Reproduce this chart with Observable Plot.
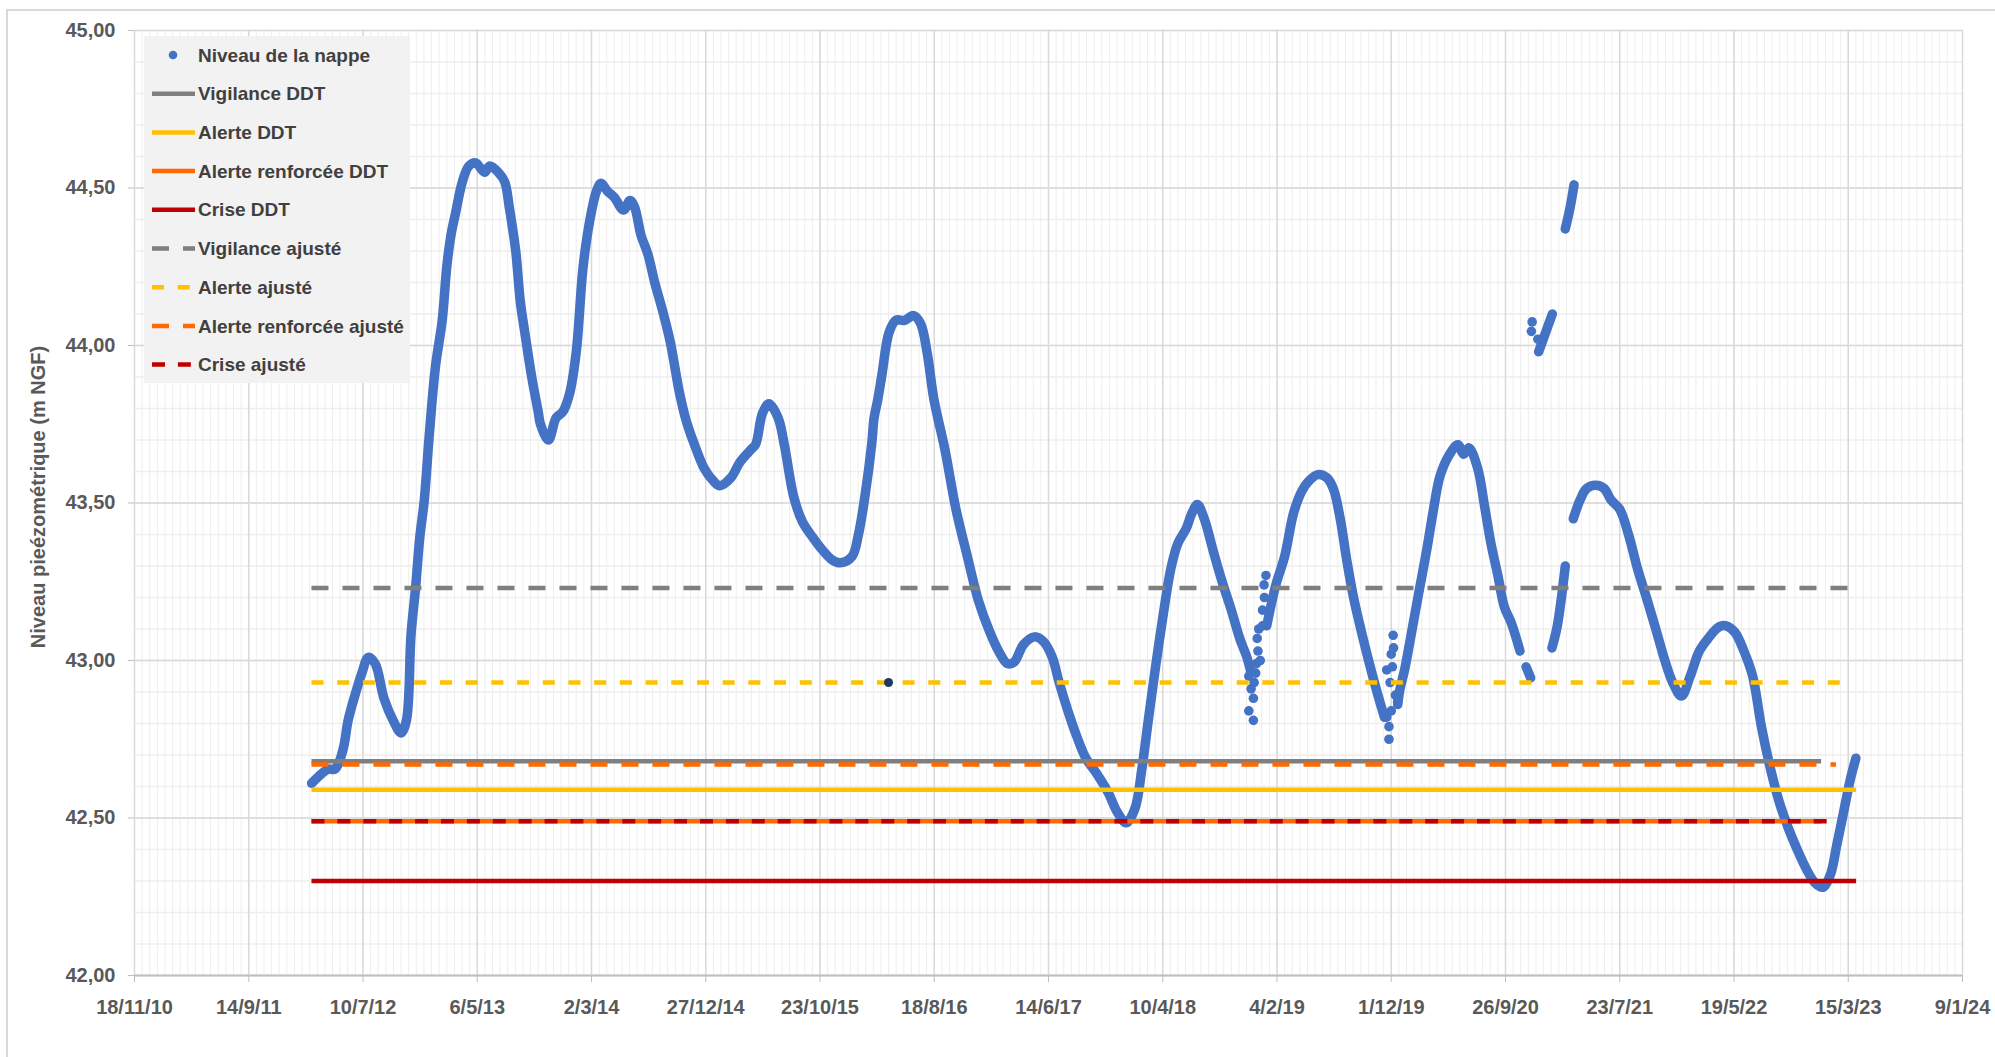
<!DOCTYPE html>
<html><head><meta charset="utf-8">
<script src="https://cdn.jsdelivr.net/npm/d3@7"></script>
<script src="https://cdn.jsdelivr.net/npm/@observablehq/plot@0.6"></script>
<style>
html,body{margin:0;padding:0;background:#fff;}
#wrap{position:relative;width:1995px;height:1057px;overflow:hidden;font-family:"Liberation Sans",Arial,sans-serif;background:#fff;}
#border{position:absolute;left:6px;top:9px;width:2100px;height:1200px;border-top:2px solid #d9d9d9;border-left:2px solid #d9d9d9;}
#chart{position:absolute;left:0;top:0;}
#ytitle{position:absolute;left:38px;top:497px;transform:translate(-50%,-50%) rotate(-90deg);white-space:nowrap;font-weight:bold;font-size:20px;color:#595959;}
#legend{position:absolute;left:144px;top:36px;width:266px;height:347px;background:#f2f2f2;}
</style></head>
<body><div id="wrap"><div id="border"></div><div id="chart"></div><div id="ytitle">Niveau pieézométrique (m NGF)</div><div id="legend"></div></div>
<script>
// Dates are Excel serial day numbers (as stored by the source workbook)
const nappeDate = [
40965,40991,41008,41026,41038,41050,41061,41079,41097,41114,41132,41155,41179,41200,41214,41226,41238,41249,41261,41273,
41290,41308,41320,41331,41343,41361,41378,41396,41419,41433,41455,41472,41484,41501,41513,41525,41543,41560,41566,41587,
41607,41625,41643,41660,41678,41696,41713,41725,41742,41760,41784,41801,41813,41830,41848,41866,41889,41907,41931,41949,
41972,41996,42020,42037,42066,42090,42119,42131,42149,42166,42190,42207,42231,42254,42284,42307,42331,42354,42384,42401,
42419,42436,42442,42452,42463,42481,42499,42522,42546,42564,42581,42599,42628,42657,42687,42716,42746,42769,42792,42810,
42834,42863,42887,42910,42928,42951,42974,42998,43027,43057,43080,43104,43127,43145,43162,43180,43203,43221,43239,43262,
43276,43291,43309,43332,43356,43380,43403,43421,43432,
null,
43473,43497,43520,43544,43566,43584,43607,43631,43648,43666,43683,43701,43724,43747,43765,43782,
null,
43817,43823,43835,43852,43870,43893,43911,43928,43951,43975,43990,44004,44027,44045,44062,44080,44097,44115,44138,
null,
44154,44166,
null,
44222,44236,44257,
null,
44187,44205,44223,
null,
44257,44270,44280,
null,
44278,44296,44313,44337,44359,44377,44400,44423,44447,44470,44493,44516,44539,44562,44585,44609,44632,44661,44679,44702,
44726,44749,44772,44796,44819,44842,44866,44889,44912,44933,44953,44970,44988,45005,45020
];
const nappeLevel = [
42.61,42.64,42.655,42.655,42.68,42.73,42.81,42.89,42.96,43.01,42.99,42.88,42.81,42.77,42.81,43.08,43.23,43.39,43.51,43.70,
43.93,44.08,44.25,44.35,44.42,44.52,44.57,44.58,44.55,44.57,44.55,44.52,44.44,44.30,44.14,44.04,43.90,43.79,43.75,43.70,
43.77,43.79,43.85,43.98,44.25,44.40,44.49,44.515,44.49,44.47,44.43,44.46,44.44,44.35,44.29,44.20,44.10,44.01,43.85,43.76,
43.68,43.61,43.57,43.555,43.58,43.63,43.67,43.686,43.785,43.815,43.77,43.68,43.52,43.44,43.386,43.35,43.32,43.31,43.33,43.40,
43.53,43.69,43.77,43.83,43.91,44.04,44.08,44.08,44.095,44.07,43.98,43.83,43.67,43.48,43.33,43.19,43.09,43.03,42.99,42.995,
43.05,43.075,43.06,43.01,42.93,42.84,42.76,42.69,42.64,42.58,42.52,42.485,42.53,42.655,42.81,42.97,43.16,43.29,43.37,43.42,
43.466,43.495,43.45,43.35,43.25,43.16,43.067,43.01,42.96,
null,
43.11,43.24,43.33,43.47,43.54,43.57,43.59,43.58,43.545,43.45,43.32,43.20,43.08,42.97,42.89,42.82,
null,
42.86,42.91,42.97,43.08,43.20,43.35,43.48,43.585,43.65,43.685,43.655,43.675,43.61,43.49,43.37,43.27,43.17,43.12,43.03,
null,
42.98,42.945,
null,
43.04,43.11,43.30,
null,
43.98,44.04,44.10,
null,
44.37,44.44,44.51,
null,
43.45,43.51,43.546,43.556,43.546,43.51,43.48,43.40,43.29,43.20,43.107,43.01,42.93,42.887,42.95,43.03,43.07,43.107,43.11,43.09,
43.03,42.95,42.79,42.655,42.55,42.47,42.40,42.34,42.295,42.28,42.32,42.415,42.52,42.62,42.69
];
const scatterDate = [43426,43432,43438,43426,43438,43440,43444,43446,43450,43456,43448,43452,43462,43462,43467,43466,43471,
  43788,43794,43794,43800,43797,43788,43800,43803,43805,43806,43811,43817,
  44170,44168,44185];
const scatterLevel = [42.95,42.91,42.88,42.84,42.81,42.93,42.96,42.99,43.03,43.00,43.07,43.10,43.11,43.16,43.20,43.24,43.27,
  42.82,42.75,42.79,42.84,42.93,42.97,43.02,42.98,43.08,43.04,42.89,42.87,
  44.075,44.045,44.02];
const isolatedDate = [42480];
const isolatedLevel = [42.93];

const thresholdNames = ["Vigilance DDT","Alerte DDT","Alerte renforcée DDT","Crise DDT","Vigilance ajusté","Alerte ajusté","Alerte renforcée ajusté","Crise ajusté"];
const thresholdLevels = [42.68, 42.59, 42.49, 42.30, 43.23, 42.93, 42.67, 42.49];
const thresholdStart = [40966, 40966, 40966, 40966, 40966, 40966, 40966, 40966];
const thresholdEnd = [44930, 45022, 44930, 45022, 45019, 45006, 44969, 44964];

const xTicks = d3.range(40500, 45301, 300);
const yTicks = [42, 42.5, 43, 43.5, 44, 44.5, 45];
const legendLabel = "Niveau de la nappe";

// styles
const styleOf = {
  "Vigilance DDT": {stroke: "#7f7f7f", dash: null},
  "Alerte DDT": {stroke: "#ffc000", dash: null},
  "Alerte renforcée DDT": {stroke: "#ff6a00", dash: null},
  "Crise DDT": {stroke: "#c00000", dash: null},
  "Vigilance ajusté": {stroke: "#7f7f7f", dash: "17,14"},
  "Alerte ajusté": {stroke: "#ffc000", dash: "12,13.7"},
  "Alerte renforcée ajusté": {stroke: "#ff6a00", dash: "17,14"},
  "Crise ajusté": {stroke: "#c00000", dash: "13,12.9"}
};
const BLUE = "#4472c4";

function serialToLabel(s) {
  const d = new Date(Date.UTC(1899, 11, 30) + s * 86400000);
  return `${d.getUTCDate()}/${d.getUTCMonth() + 1}/${String(d.getUTCFullYear()).slice(2)}`;
}

const nappe = nappeDate.map((d, i) => ({date: d, level: nappeLevel[i]}));
const scatter = scatterDate.map((d, i) => ({date: d, level: scatterLevel[i]}));
const isolated = isolatedDate.map((d, i) => ({date: d, level: isolatedLevel[i]}));
const thresholds = thresholdNames.map((n, i) => ({name: n, level: thresholdLevels[i], start: thresholdStart[i], end: thresholdEnd[i]}));

const minorX = d3.range(40500, 45301, 20);
const minorY = d3.range(0, 31).map(i => 42 + i * 0.1);

const thresholdMarks = thresholds.map(t => Plot.ruleY([t], {
  y: "level", x1: "start", x2: "end",
  stroke: styleOf[t.name].stroke, strokeWidth: 4.5,
  strokeDasharray: styleOf[t.name].dash || undefined
}));

const chart = Plot.plot({
  width: 1995, height: 1057,
  marginLeft: 134, marginRight: 33, marginTop: 30, marginBottom: 82,
  x: {domain: [40500, 45300]},
  y: {domain: [42, 45]},
  style: {fontFamily: '"Liberation Sans", Arial, sans-serif', background: "transparent", overflow: "visible"},
  marks: [
    Plot.ruleX(minorX, {stroke: "#eeeeee", strokeWidth: 1}),
    Plot.ruleY(minorY, {stroke: "#eeeeee", strokeWidth: 1.5}),
    Plot.ruleX(xTicks, {stroke: "#d9d9d9", strokeWidth: 1.5}),
    Plot.ruleY(yTicks, {stroke: "#d9d9d9", strokeWidth: 1.5}),
    Plot.ruleY([42], {stroke: "#bfbfbf", strokeWidth: 2}),
    Plot.line(nappe, {x: "date", y: "level", stroke: BLUE, strokeWidth: 9.5, strokeLinecap: "round", strokeLinejoin: "round", curve: "catmull-rom"}),
    Plot.dot(scatter, {x: "date", y: "level", r: 4.8, fill: BLUE}),
    ...thresholdMarks,
    Plot.dot(isolated, {x: "date", y: "level", r: 4.5, fill: "#1f3864"}),
    Plot.axisX({ticks: xTicks, tickFormat: serialToLabel, tickSize: 7, tickPadding: 17, fontSize: 20, fontWeight: "bold", fill: "#595959", stroke: "#bfbfbf", label: null}),
    Plot.axisY({ticks: yTicks, tickFormat: d => d.toFixed(2).replace(".", ","), tickSize: 6, tickPadding: 13, fontSize: 20, fontWeight: "bold", fill: "#595959", stroke: "#bfbfbf", label: null})
  ]
});
document.getElementById("chart").appendChild(chart);

// Legend
const ns = "http://www.w3.org/2000/svg";
const lg = document.createElementNS(ns, "svg");
lg.setAttribute("width", 266); lg.setAttribute("height", 347);
const entries = [{name: legendLabel, dot: true}, ...thresholdNames.map(n => ({name: n}))];
entries.forEach((e, i) => {
  const cy = 19 + i * 38.7;
  if (e.dot) {
    const c = document.createElementNS(ns, "circle");
    c.setAttribute("cx", 29); c.setAttribute("cy", cy); c.setAttribute("r", 4.3); c.setAttribute("fill", BLUE);
    lg.appendChild(c);
  } else {
    const l = document.createElementNS(ns, "line");
    l.setAttribute("x1", 8); l.setAttribute("x2", 51); l.setAttribute("y1", cy); l.setAttribute("y2", cy);
    l.setAttribute("stroke", styleOf[e.name].stroke); l.setAttribute("stroke-width", 4.5);
    if (styleOf[e.name].dash) l.setAttribute("stroke-dasharray", styleOf[e.name].dash);
    lg.appendChild(l);
  }
  const t = document.createElementNS(ns, "text");
  t.setAttribute("x", 54); t.setAttribute("y", cy); t.setAttribute("dy", "0.35em");
  t.setAttribute("font-size", 19); t.setAttribute("font-weight", "bold"); t.setAttribute("fill", "#404040");
  t.setAttribute("font-family", '"Liberation Sans", Arial, sans-serif');
  t.textContent = e.name;
  lg.appendChild(t);
});
document.getElementById("legend").appendChild(lg);
</script>
</body></html>
